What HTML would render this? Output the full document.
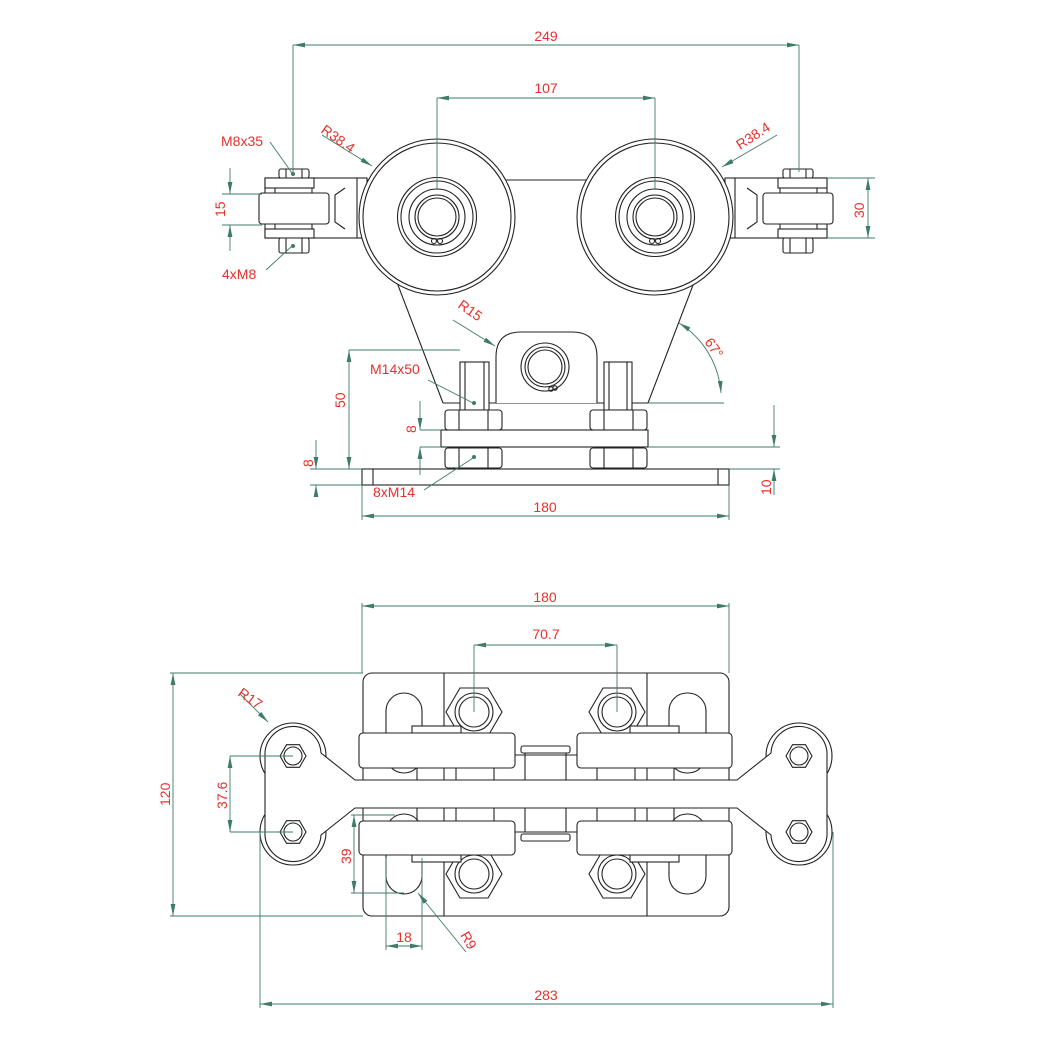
<!DOCTYPE html>
<html><head><meta charset="utf-8"><style>
html,body{margin:0;padding:0;background:#fff;}
svg{display:block}
text{font-family:"Liberation Sans",sans-serif;font-size:14px;fill:#e8302c;}
.k{fill:none;stroke:#222;stroke-width:1.1}
.kf{fill:#fff;stroke:#222;stroke-width:1.1}
.d{fill:none;stroke:#3f7c66;stroke-width:0.9}
.a{fill:#3f7c66;stroke:none}
</style></head><body>
<svg width="1060" height="1060" viewBox="0 0 1060 1060" xmlns="http://www.w3.org/2000/svg">
<defs>
<marker id="ar" viewBox="0 0 10 4" refX="10" refY="2" markerWidth="12" markerHeight="4.8" orient="auto-start-reverse" markerUnits="userSpaceOnUse"><path d="M0,0 L10,2 L0,4z" fill="#3f7c66"/></marker>
<g id="bracket">
 <rect class="kf" x="725" y="178" width="102" height="60"/>
 <line class="k" x1="735" y1="178" x2="735" y2="238"/>
 <path class="k" d="M747,188 L757,195 L757,222 L747,229"/>
 <rect class="kf" x="778" y="178" width="49" height="10"/>
 <rect class="kf" x="778" y="229" width="49" height="9"/>
 <line class="k" x1="780" y1="188" x2="780" y2="229"/><line class="k" x1="817" y1="188" x2="817" y2="229"/>
 <rect class="kf" x="763" y="193" width="70" height="31" rx="3"/>
 <rect class="kf" x="783" y="169" width="30" height="9" rx="2"/>
 <line class="k" x1="790" y1="169" x2="790" y2="178"/><line class="k" x1="806" y1="169" x2="806" y2="178"/>
 <rect class="kf" x="783" y="238" width="30" height="15" rx="2"/>
 <line class="k" x1="790" y1="238" x2="790" y2="253"/><line class="k" x1="806" y1="238" x2="806" y2="253"/>
</g>
<g id="wheel">
 <circle class="kf" r="78"/><circle class="k" r="74"/>
 <circle class="k" r="39.5"/><circle class="k" r="36"/><circle class="k" r="28"/><circle class="k" r="22"/><circle class="k" r="19"/>
 <circle class="k" cx="-3" cy="24" r="2.5"/><circle class="k" cx="3" cy="24" r="2.5"/>
</g>
<g id="hexs"><polygon class="kf" points="-13,0 -6.5,-11.3 6.5,-11.3 13,0 6.5,11.3 -6.5,11.3"/><circle class="k" r="9"/></g>
<g id="hexb"><polygon class="kf" points="-28,0 -14,-24 14,-24 28,0 14,24 -14,24"/><circle class="k" r="19"/><circle class="k" r="15"/></g>
<g id="nut"><rect class="kf" x="0" y="0" width="57" height="20" rx="3"/><line class="k" x1="14" y1="0" x2="14" y2="20"/><line class="k" x1="43" y1="0" x2="43" y2="20"/></g>
</defs>

<!-- ===== TOP VIEW ===== -->
<path fill="#fff" stroke="none" d="M355,180 L735,180 L735,238 L711,238 L648,403 L443,403 L380,238 L355,238z"/>
<line class="k" x1="355" y1="180" x2="735" y2="180"/>
<line class="k" x1="380" y1="238" x2="443" y2="403"/>
<line class="k" x1="711" y1="238" x2="648" y2="403"/>
<line class="k" x1="443" y1="403" x2="648" y2="403"/>
<use href="#bracket"/>
<use href="#bracket" transform="translate(1092,0) scale(-1,1)"/>
<use href="#wheel" transform="translate(437,217)"/>
<use href="#wheel" transform="translate(655,217)"/>
<!-- lug -->
<path class="kf" d="M496,403 L496,357 Q496,332 521,332 L572,332 Q597,332 597,357 L597,403"/>
<circle class="k" cx="545" cy="367" r="24"/><circle class="k" cx="545" cy="367" r="20"/><circle class="k" cx="545" cy="367" r="17"/>
<circle class="k" cx="551" cy="389" r="2.2"/><circle class="k" cx="555" cy="388" r="2.2"/>
<!-- studs -->
<rect class="kf" x="460" y="362" width="29" height="48"/><line class="k" x1="465" y1="362" x2="465" y2="410"/><line class="k" x1="484" y1="362" x2="484" y2="410"/>
<rect class="kf" x="604" y="362" width="28" height="48"/><line class="k" x1="609" y1="362" x2="609" y2="410"/><line class="k" x1="627" y1="362" x2="627" y2="410"/>
<use href="#nut" transform="translate(445,410)"/><use href="#nut" transform="translate(590,410)"/>
<rect class="kf" x="441" y="430" width="207" height="17"/>
<use href="#nut" transform="translate(445,448)"/><use href="#nut" transform="translate(590,448)"/>
<rect class="kf" x="362" y="469" width="367" height="16"/>
<line class="k" x1="373" y1="469" x2="373" y2="485"/><line class="k" x1="718" y1="469" x2="718" y2="485"/>

<!-- top dims -->
<line class="d" x1="293" y1="45" x2="293" y2="172"/><line class="d" x1="799" y1="45" x2="799" y2="172"/>
<line class="d" x1="293" y1="45" x2="799" y2="45" marker-start="url(#ar)" marker-end="url(#ar)"/>
<text x="546" y="41" text-anchor="middle">249</text>
<line class="d" x1="437" y1="98" x2="437" y2="190"/><line class="d" x1="655" y1="98" x2="655" y2="190"/>
<line class="d" x1="437" y1="98" x2="655" y2="98" marker-start="url(#ar)" marker-end="url(#ar)"/>
<text x="546" y="93" text-anchor="middle">107</text>
<line class="d" x1="322" y1="135" x2="372" y2="166" marker-end="url(#ar)"/>
<text transform="translate(320,132) rotate(35)">R38.4</text>
<line class="d" x1="777" y1="135" x2="722" y2="167" marker-end="url(#ar)"/>
<text transform="translate(740,150) rotate(-33)">R38.4</text>
<text x="221" y="146">M8x35</text>
<line class="d" x1="270" y1="142" x2="292" y2="173"/><circle class="a" cx="293" cy="174" r="2"/>
<text x="222" y="279">4xM8</text>
<line class="d" x1="266" y1="270" x2="292" y2="246"/><circle class="a" cx="293" cy="246" r="2"/>
<line class="d" x1="222" y1="194" x2="262" y2="194"/><line class="d" x1="222" y1="225" x2="262" y2="225"/>
<line class="d" x1="230" y1="168" x2="230" y2="194" marker-end="url(#ar)"/><line class="d" x1="230" y1="251" x2="230" y2="225" marker-end="url(#ar)"/>
<text transform="translate(225,217) rotate(-90)">15</text>
<line class="d" x1="827" y1="178" x2="875" y2="178"/><line class="d" x1="827" y1="238" x2="875" y2="238"/>
<line class="d" x1="868" y1="178" x2="868" y2="238" marker-start="url(#ar)" marker-end="url(#ar)"/>
<text transform="translate(864,218) rotate(-90)">30</text>
<line class="d" x1="453" y1="320" x2="495" y2="346" marker-end="url(#ar)"/>
<text transform="translate(457,307) rotate(35)">R15</text>
<path class="d" d="M679,323 A90,90 0 0 1 721,393" marker-start="url(#ar)" marker-end="url(#ar)"/>
<line class="d" x1="648" y1="403" x2="724" y2="403"/>
<text transform="translate(704,342) rotate(55)">67°</text>
<line class="d" x1="349" y1="350" x2="460" y2="350"/>
<line class="d" x1="349" y1="350" x2="349" y2="469" marker-start="url(#ar)" marker-end="url(#ar)"/>
<text transform="translate(345,408) rotate(-90)">50</text>
<text x="370" y="374">M14x50</text>
<line class="d" x1="428" y1="380" x2="473" y2="403"/><circle class="a" cx="474" cy="403" r="2"/>
<line class="d" x1="420" y1="430" x2="441" y2="430"/><line class="d" x1="420" y1="447" x2="441" y2="447"/>
<line class="d" x1="420" y1="401" x2="420" y2="430" marker-end="url(#ar)"/><line class="d" x1="420" y1="475" x2="420" y2="447" marker-end="url(#ar)"/>
<text transform="translate(416,433) rotate(-90)">8</text>
<line class="d" x1="310" y1="469" x2="362" y2="469"/><line class="d" x1="310" y1="485" x2="362" y2="485"/>
<line class="d" x1="316" y1="440" x2="316" y2="469" marker-end="url(#ar)"/><line class="d" x1="316" y1="495" x2="316" y2="485" marker-end="url(#ar)"/>
<text transform="translate(313,467) rotate(-90)">8</text>
<line class="d" x1="648" y1="447" x2="780" y2="447"/><line class="d" x1="729" y1="469" x2="780" y2="469"/>
<line class="d" x1="774" y1="405" x2="774" y2="447" marker-end="url(#ar)"/><line class="d" x1="774" y1="495" x2="774" y2="469" marker-end="url(#ar)"/>
<text transform="translate(771,495) rotate(-90)">10</text>
<text x="373" y="497">8xM14</text>
<line class="d" x1="424" y1="490" x2="473" y2="458"/><circle class="a" cx="474" cy="457" r="2"/>
<line class="d" x1="362" y1="485" x2="362" y2="520"/><line class="d" x1="729" y1="485" x2="729" y2="520"/>
<line class="d" x1="362" y1="516" x2="729" y2="516" marker-start="url(#ar)" marker-end="url(#ar)"/>
<text x="545" y="512" text-anchor="middle">180</text>

<!-- ===== BOTTOM VIEW ===== -->
<rect class="kf" x="363" y="673" width="366" height="243" rx="9"/>
<line class="k" x1="444" y1="673" x2="444" y2="916"/><line class="k" x1="647" y1="673" x2="647" y2="916"/>
<rect class="k" x="386" y="693" width="36" height="80" rx="18"/><rect class="k" x="386" y="814" width="36" height="80" rx="18"/>
<rect class="k" x="669" y="693" width="37" height="80" rx="18"/><rect class="k" x="669" y="814" width="37" height="80" rx="18"/>
<use href="#hexb" transform="translate(474,712)"/><use href="#hexb" transform="translate(617,712)"/>
<use href="#hexb" transform="translate(474,874)"/><use href="#hexb" transform="translate(617,874)"/>
<g class="k">
<line x1="417" y1="768" x2="417" y2="821"/><line x1="456" y1="768" x2="456" y2="821"/><line x1="494" y1="768" x2="494" y2="821"/>
<line x1="597" y1="768" x2="597" y2="821"/><line x1="635" y1="768" x2="635" y2="821"/><line x1="674" y1="768" x2="674" y2="821"/>
<line x1="525" y1="753" x2="525" y2="832"/><line x1="566" y1="753" x2="566" y2="832"/>
<line x1="515" y1="755" x2="577" y2="755"/><line x1="515" y1="832" x2="577" y2="832"/>
</g>
<rect class="kf" x="521" y="746" width="49" height="7" rx="2"/><rect class="kf" x="521" y="834" width="49" height="7" rx="2"/>
<rect class="kf" x="412" y="726" width="49" height="7"/><rect class="kf" x="630" y="726" width="49" height="7"/>
<rect class="kf" x="412" y="855" width="49" height="7"/><rect class="kf" x="630" y="855" width="49" height="7"/>
<rect class="kf" x="359" y="733" width="156" height="35" rx="4"/><rect class="kf" x="577" y="733" width="155" height="35" rx="4"/>
<rect class="kf" x="359" y="821" width="156" height="34" rx="4"/><rect class="kf" x="577" y="821" width="155" height="34" rx="4"/>
<circle class="kf" cx="293" cy="756" r="33"/><circle class="kf" cx="293" cy="832" r="33"/>
<circle class="kf" cx="799" cy="756" r="33"/><circle class="kf" cx="799" cy="832" r="33"/>
<path class="kf" d="M265,756 A28,28 0 0 1 321,753 L355,780 L737,780 L771,753 A28,28 0 0 1 827,756 L827,832 A28,28 0 0 1 771,835 L737,808 L355,808 L321,835 A28,28 0 0 1 265,832z"/>
<use href="#hexs" transform="translate(293,756)"/><use href="#hexs" transform="translate(293,832)"/>
<use href="#hexs" transform="translate(799,756)"/><use href="#hexs" transform="translate(799,832)"/>

<!-- bottom dims -->
<line class="d" x1="362" y1="603" x2="362" y2="673"/><line class="d" x1="729" y1="603" x2="729" y2="673"/>
<line class="d" x1="362" y1="606" x2="729" y2="606" marker-start="url(#ar)" marker-end="url(#ar)"/>
<text x="545" y="602" text-anchor="middle">180</text>
<line class="d" x1="474" y1="645" x2="474" y2="712"/><line class="d" x1="617" y1="645" x2="617" y2="712"/>
<line class="d" x1="474" y1="645" x2="617" y2="645" marker-start="url(#ar)" marker-end="url(#ar)"/>
<text x="546" y="639" text-anchor="middle">70.7</text>
<line class="d" x1="170" y1="673" x2="363" y2="673"/><line class="d" x1="170" y1="916" x2="363" y2="916"/>
<line class="d" x1="173" y1="673" x2="173" y2="916" marker-start="url(#ar)" marker-end="url(#ar)"/>
<text transform="translate(170,806) rotate(-90)">120</text>
<line class="d" x1="230" y1="756" x2="293" y2="756"/><line class="d" x1="230" y1="832" x2="293" y2="832"/>
<line class="d" x1="230" y1="756" x2="230" y2="832" marker-start="url(#ar)" marker-end="url(#ar)"/>
<text transform="translate(227,809) rotate(-90)">37.6</text>
<line class="d" x1="240" y1="694" x2="268" y2="722" marker-end="url(#ar)"/>
<text transform="translate(237,695) rotate(35)">R17</text>
<line class="d" x1="351" y1="815" x2="395" y2="815"/><line class="d" x1="351" y1="893" x2="404" y2="893"/>
<line class="d" x1="354" y1="815" x2="354" y2="893" marker-start="url(#ar)" marker-end="url(#ar)"/>
<text transform="translate(351,864) rotate(-90)">39</text>
<line class="d" x1="386" y1="858" x2="386" y2="950"/><line class="d" x1="422" y1="858" x2="422" y2="950"/>
<line class="d" x1="386" y1="946" x2="422" y2="946" marker-start="url(#ar)" marker-end="url(#ar)"/>
<text x="404" y="942" text-anchor="middle">18</text>
<line class="d" x1="466" y1="952" x2="418" y2="893" marker-end="url(#ar)"/>
<text transform="translate(460,935) rotate(60)">R9</text>
<line class="d" x1="260" y1="832" x2="260" y2="1008"/><line class="d" x1="833" y1="832" x2="833" y2="1008"/>
<line class="d" x1="260" y1="1004" x2="833" y2="1004" marker-start="url(#ar)" marker-end="url(#ar)"/>
<text x="546" y="1000" text-anchor="middle">283</text>
</svg>
</body></html>
